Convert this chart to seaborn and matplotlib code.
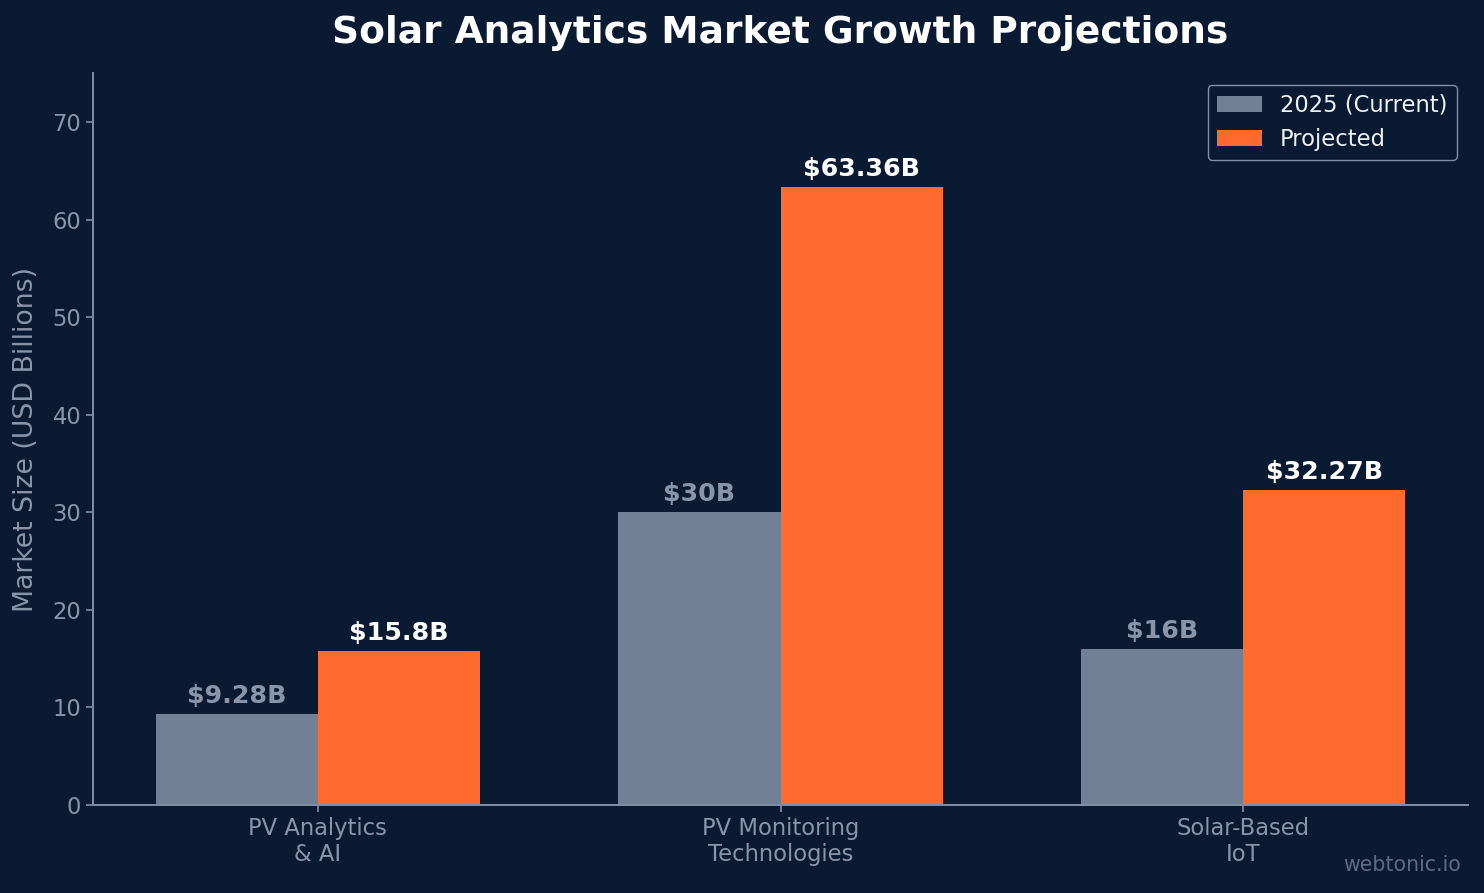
import matplotlib
matplotlib.use('Agg')
from matplotlib import pyplot as plt
import seaborn as sns
import pandas as pd

# Chart data
segments = ['PV Analytics\n& AI', 'PV Monitoring\nTechnologies', 'Solar-Based\nIoT']
current_2025 = [9.28, 30, 16]
projected = [15.8, 63.36, 32.27]
series_names = ['2025 (Current)', 'Projected']

BG = '#0b1a33'
GRAY_BAR = '#718096'
ORANGE = '#ff6b2e'
MUTED = '#8a95a9'
SPINE = '#8190a6'

df = pd.DataFrame({
    'Segment': segments * 2,
    'Value': current_2025 + projected,
    'Period': [series_names[0]] * len(segments) + [series_names[1]] * len(segments),
})

sns.set_style('dark')
plt.rcParams['font.family'] = ['DejaVu Sans']

fig = plt.figure(figsize=(14.84, 8.93), dpi=100, facecolor=BG)
ax = fig.add_axes([0.0627, 0.0985, 0.9265, 0.8195])
ax.set_facecolor(BG)

sns.barplot(data=df, x='Segment', y='Value', hue='Period',
            palette={series_names[0]: GRAY_BAR, series_names[1]: ORANGE},
            saturation=1, width=0.7, errorbar=None, linewidth=0, ax=ax)

# value labels
label_colors = [MUTED, 'white']
for container, values, col in zip(ax.containers, [current_2025, projected], label_colors):
    ax.bar_label(container, labels=[f'${v:g}B' for v in values], padding=4.5,
                 color=col, fontsize=18.2, fontweight='bold')

ax.set_ylim(0, 75)
ax.set_xlim(-0.485, 2.485)
ax.set_yticks(range(0, 71, 10))
ax.set_xlabel('')
ax.set_ylabel('Market Size (USD Billions)', color=MUTED, fontsize=19.3, labelpad=10)
ax.set_title('Solar Analytics Market Growth Projections', color='white',
             fontsize=27, fontweight='bold', pad=21.5)

ax.tick_params(axis='both', colors=SPINE, labelcolor=MUTED, labelsize=16.3,
               length=5, width=1.2, bottom=True, left=True)
for side in ['top', 'right']:
    ax.spines[side].set_visible(False)
for side in ['left', 'bottom']:
    ax.spines[side].set_visible(True)
    ax.spines[side].set_color(SPINE)
    ax.spines[side].set_linewidth(1.4)
ax.grid(False)

sns.move_legend(ax, 'upper right', title=None, fontsize=16.3, frameon=True,
                facecolor=BG, edgecolor=SPINE, labelcolor='#eef1f5', framealpha=1)

fig.text(0.9845, 0.02, 'webtonic.io', ha='right', va='bottom',
         color='#5d6b85', fontsize=14.8)

fig.savefig('out.png', dpi=100, facecolor=BG)
